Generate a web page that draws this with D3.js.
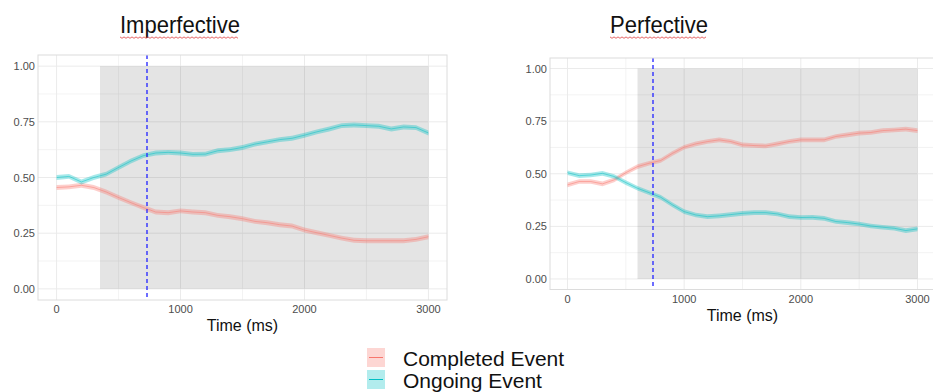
<!DOCTYPE html>
<html lang="en">
<head>
<meta charset="utf-8">
<title>Imperfective vs Perfective</title>
<script src="https://cdnjs.cloudflare.com/ajax/libs/d3/7.8.5/d3.min.js"></script>
<style>
  body { margin: 0; background: #fff; }
  svg { display: block; font-family: "Liberation Sans", Arial, sans-serif; }
  .grid line { stroke: #ebebeb; stroke-width: 1; }
  .tick-label { fill: #4d4d4d; font-size: 11px; }
</style>
</head>
<body>
<div id="chart"></div>
<script>
// time points (ms)
var times = [0,100,200,300,400,500,600,700,800,900,1000,1100,1200,1300,1400,1500,
             1600,1700,1800,1900,2000,2100,2200,2300,2400,2500,2600,2700,2800,2900,3000];

// Imperfective panel
var impCompleted = [0.455,0.458,0.465,0.455,0.435,0.41,0.387,0.365,0.345,0.342,0.35,0.345,0.342,0.33,0.324,0.315,
                    0.303,0.297,0.288,0.282,0.264,0.252,0.24,0.228,0.218,0.216,0.216,0.216,0.216,0.222,0.234];
var impOngoing   = [0.50,0.505,0.48,0.50,0.515,0.545,0.574,0.598,0.61,0.613,0.61,0.604,0.605,0.62,0.625,0.635,
                    0.65,0.66,0.67,0.676,0.69,0.705,0.718,0.733,0.736,0.733,0.73,0.718,0.727,0.724,0.70];

// Perfective panel
var perfCompleted = [0.447,0.463,0.463,0.452,0.471,0.505,0.534,0.55,0.563,0.597,0.626,0.642,0.653,0.661,0.653,0.637,
                     0.634,0.632,0.642,0.653,0.661,0.661,0.661,0.677,0.685,0.693,0.696,0.705,0.708,0.712,0.705];
var perfOngoing   = [0.505,0.491,0.494,0.502,0.487,0.458,0.431,0.41,0.388,0.352,0.32,0.304,0.296,0.30,0.306,0.312,
                     0.315,0.315,0.309,0.296,0.292,0.293,0.288,0.273,0.268,0.261,0.252,0.246,0.241,0.23,0.238];

var xTicks = [0, 1000, 2000, 3000];
var yTicks = [0, 0.25, 0.5, 0.75, 1];
var seriesNames = ["Completed Event", "Ongoing Event"];
var seriesColors = ["#F8766D", "#00BFC4"];

var svg = d3.select("#chart").append("svg")
  .attr("width", 933)
  .attr("height", 392);

function drawPanel(p) {
  var x = d3.scaleLinear().domain([-150, 3150]).range([p.left, p.right]);
  var y = d3.scaleLinear().domain([-0.05, 1.05]).range([p.bottom, p.top]);
  var g = svg.append("g");

  // clip to panel
  var clipId = "clip" + p.id;
  svg.append("clipPath").attr("id", clipId)
    .append("rect")
    .attr("x", p.left).attr("y", p.top)
    .attr("width", p.right - p.left).attr("height", p.bottom - p.top);
  var inner = g.append("g").attr("clip-path", "url(#" + clipId + ")");

  // grid (major + minor)
  var grid = inner.append("g").attr("class", "grid");
  var xg = d3.range(-500, 3501, 500);
  var yg = d3.range(-0.125, 1.13, 0.125);
  grid.selectAll(".vx").data(xg).enter().append("line")
    .attr("x1", d => x(d)).attr("x2", d => x(d))
    .attr("y1", p.top).attr("y2", p.bottom)
    .style("stroke-width", d => d % 1000 === 0 ? 1 : 0.6);
  grid.selectAll(".hy").data(yg).enter().append("line")
    .attr("y1", d => y(d)).attr("y2", d => y(d))
    .attr("x1", p.left).attr("x2", p.right)
    .style("stroke-width", (d, i) => i % 2 === 1 ? 1 : 0.6);

  // shaded analysis window
  inner.append("rect")
    .attr("x", x(p.shadeStart)).attr("y", y(1))
    .attr("width", x(3000) - x(p.shadeStart))
    .attr("height", y(0) - y(1))
    .attr("fill", "#000").attr("fill-opacity", 0.105);

  // ribbons + lines
  var band = 0.011;
  p.series.forEach(function(vals, k) {
    var pts = times.map((t, i) => ({t: t, v: vals[i]}));
    inner.append("path").datum(pts)
      .attr("d", d3.area().x(d => x(d.t)).y0(d => y(d.v - band)).y1(d => y(d.v + band)))
      .attr("fill", seriesColors[k]).attr("fill-opacity", 0.35);
    inner.append("path").datum(pts)
      .attr("d", d3.line().x(d => x(d.t)).y(d => y(d.v)))
      .attr("fill", "none").attr("stroke", seriesColors[k])
      .attr("stroke-width", 0.7).attr("stroke-opacity", 0.7);
  });

  // vertical dashed line
  var vx = Math.round(x(733));
  inner.append("line")
    .attr("x1", vx).attr("x2", vx)
    .attr("y1", p.top).attr("y2", p.bottom)
    .attr("stroke", "#2f2fff").attr("stroke-width", 1.4)
    .attr("stroke-dasharray", "4,3");

  // border
  g.append("rect")
    .attr("x", p.left).attr("y", p.top)
    .attr("width", p.right - p.left).attr("height", p.bottom - p.top)
    .attr("fill", "none").attr("stroke", "#dcdcdc").attr("stroke-width", 1);

  // tick labels
  g.selectAll(".xl").data(xTicks).enter().append("text")
    .attr("class", "tick-label")
    .attr("x", d => x(d)).attr("y", p.bottom + 13)
    .attr("text-anchor", "middle").text(d => d);
  g.selectAll(".yl").data(yTicks).enter().append("text")
    .attr("class", "tick-label")
    .attr("x", p.left - 3).attr("y", d => y(d) + 4)
    .attr("text-anchor", "end").text(d => d.toFixed(2));

  // axis title
  g.append("text")
    .attr("x", (x(0) + x(3000)) / 2).attr("y", p.bottom + 31)
    .attr("text-anchor", "middle")
    .style("font-size", "16px").style("fill", "#111")
    .text("Time (ms)");

  // panel title with spell-check squiggle
  g.append("text")
    .attr("x", p.titleX).attr("y", 33)
    .attr("textLength", p.titleW).attr("lengthAdjust", "spacingAndGlyphs")
    .style("font-size", "24px").style("fill", "#111")
    .text(p.title);
  var zz = d3.range(0, p.titleW, 2).map((d, i) => [p.titleX + d, 37.5 + (i % 2 ? 0.8 : -0.6)]);
  g.append("path").attr("d", d3.line()(zz))
    .attr("fill", "none").attr("stroke", "#e04040").attr("stroke-width", 0.8);
}

drawPanel({id: 1, left: 38, right: 447, top: 55, bottom: 300, shadeStart: 350,
  title: "Imperfective", titleX: 120, titleW: 120, series: [impCompleted, impOngoing]});
drawPanel({id: 2, left: 550, right: 935, top: 58, bottom: 289.5, shadeStart: 600,
  title: "Perfective", titleX: 610, titleW: 98, series: [perfCompleted, perfOngoing]});

// legend
var leg = svg.append("g");
seriesNames.forEach(function(name, k) {
  var ly = 348 + k * 22;
  leg.append("rect").attr("x", 367).attr("y", ly).attr("width", 18).attr("height", 19)
    .attr("fill", seriesColors[k]).attr("fill-opacity", 0.3);
  leg.append("line").attr("x1", 369).attr("x2", 383).attr("y1", ly + 9.5).attr("y2", ly + 9.5)
    .attr("stroke", seriesColors[k]).attr("stroke-width", 1);
  leg.append("text").attr("x", 403).attr("y", ly + 18)
    .style("font-size", "21px").style("fill", "#111").text(name);
});
</script>
</body>
</html>
